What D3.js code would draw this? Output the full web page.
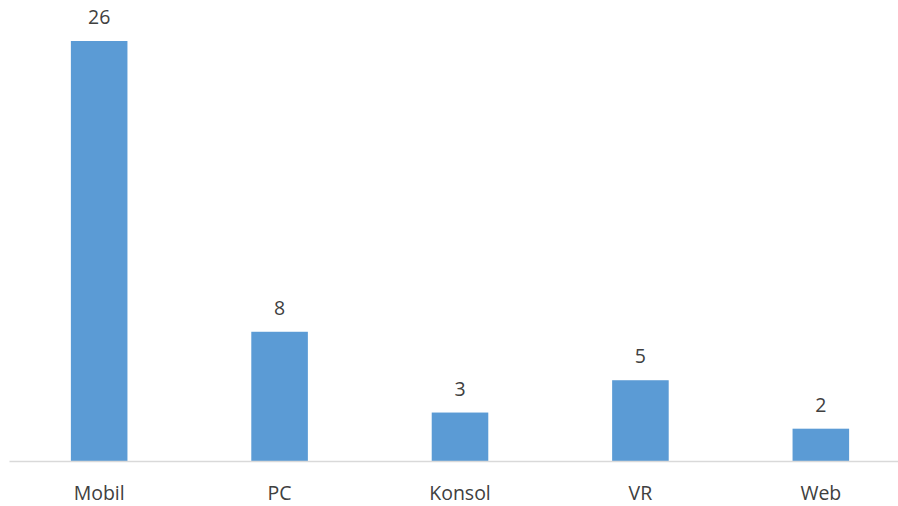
<!DOCTYPE html>
<html>
<head>
<meta charset="utf-8">
<script src="https://cdn.jsdelivr.net/npm/d3@7"></script>
<style>
  body { margin: 0; background: #fff; }
  text { font-family: "Open Sans", "Liberation Sans", sans-serif; fill: #404040; }
</style>
</head>
<body>
<div id="chart"></div>
<script>
// data
const categories = ["Mobil", "PC", "Konsol", "VR", "Web"];
const counts = [26, 8, 3, 5, 2];

const data = categories.map(function(c, i){
    return {label: c, value: counts[i]};
});

// canvas
let width = 898, height = 506;
let plot = {left: 9, right: 911, top: 41, bottom: 461};
let fontSize = "19.5px";

let x = d3.scaleBand()
    .domain(categories)
    .range([plot.left, plot.right])
    .paddingInner(0.6865)
    .paddingOuter(0.343);

let y = d3.scaleLinear()
    .domain([0, d3.max(counts)])
    .range([plot.bottom, plot.top]);

let svg = d3.select("#chart").append("svg")
    .attr("width", width)
    .attr("height", height);

// bars
svg.selectAll(".bar")
    .data(data)
    .enter()
    .append("rect")
    .attr("class", "bar")
    .attr("x", function(d){ return x(d.label); })
    .attr("width", x.bandwidth())
    .attr("y", function(d){ return y(d.value); })
    .attr("height", function(d){ return plot.bottom - y(d.value); })
    .attr("fill", "#5B9BD5");

// value labels
svg.selectAll(".val")
    .data(data)
    .enter()
    .append("text")
    .attr("class", "val")
    .attr("x", function(d){ return x(d.label) + x.bandwidth() / 2; })
    .attr("y", function(d){ return y(d.value) - 17; })
    .attr("text-anchor", "middle")
    .style("font-size", fontSize)
    .text(function(d){ return d.value; });

// x axis
let xAxis = svg.append("g")
    .attr("transform", "translate(0," + plot.bottom + ")")
    .call(d3.axisBottom(x).tickSize(0).tickPadding(25).tickSizeOuter(0));

xAxis.select(".domain")
    .attr("stroke", "#D9D9D9")
    .attr("stroke-width", 1.5);

xAxis.selectAll("text")
    .style("font-size", fontSize)
    .attr("fill", "#404040");
</script>
</body>
</html>
